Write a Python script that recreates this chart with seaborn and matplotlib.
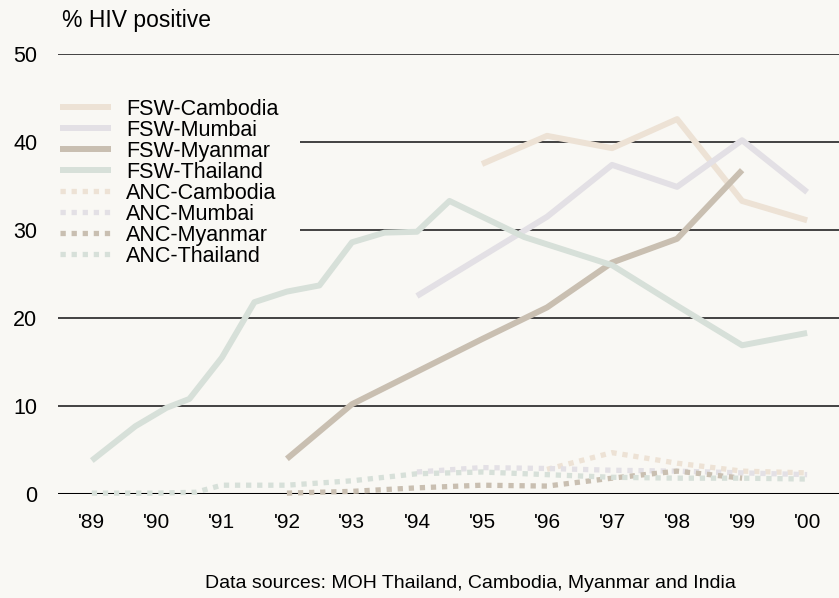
import matplotlib
matplotlib.use("Agg")
import matplotlib.pyplot as plt
import seaborn as sns
import pandas as pd

# Series names (legend order)
series_names = ['FSW-Cambodia', 'FSW-Mumbai', 'FSW-Myanmar', 'FSW-Thailand',
                'ANC-Cambodia', 'ANC-Mumbai', 'ANC-Myanmar', 'ANC-Thailand']

# Female sex workers (% HIV positive)
fsw_cambodia_years = [1995, 1996, 1997, 1998, 1999, 2000]
fsw_cambodia = [37.5, 40.7, 39.3, 42.6, 33.3, 31.1]

fsw_mumbai_years = [1994, 1995, 1996, 1997, 1998, 1999, 2000]
fsw_mumbai = [22.5, 27.0, 31.5, 37.4, 34.9, 40.2, 34.3]

fsw_myanmar_years = [1992, 1993, 1994, 1995, 1996, 1997, 1998, 1999]
fsw_myanmar = [4.0, 10.2, 13.9, 17.6, 21.2, 26.3, 29.0, 36.8]

fsw_thailand_years = [1989, 1989.67, 1990.15, 1990.5, 1991, 1991.5, 1992, 1992.5,
                      1993, 1993.5, 1994, 1994.5, 1995.65, 1997, 1998, 1999, 2000]
fsw_thailand = [3.8, 7.7, 9.8, 10.8, 15.5, 21.8, 23.0, 23.7,
                28.6, 29.7, 29.8, 33.3, 29.2, 26.0, 21.4, 16.9, 18.3]

# Antenatal clinic attendees (% HIV positive)
anc_cambodia_years = [1996, 1997, 1998, 1999, 2000]
anc_cambodia = [2.8, 4.7, 3.5, 2.6, 2.4]

anc_mumbai_years = [1994, 1995, 1996, 1997, 1998, 1999, 2000]
anc_mumbai = [2.5, 3.0, 2.9, 2.7, 2.6, 2.4, 2.2]

anc_myanmar_years = [1992, 1993, 1994, 1995, 1996, 1997, 1998, 1999]
anc_myanmar = [0.1, 0.3, 0.7, 1.0, 0.9, 1.8, 2.6, 1.8]

anc_thailand_years = [1989, 1990, 1990.6, 1991, 1992, 1993, 1994, 1995,
                      1996, 1997, 1998, 1999, 2000]
anc_thailand = [0.1, 0.1, 0.2, 1.0, 1.0, 1.5, 2.3, 2.5, 2.2, 1.9, 1.8, 1.8, 1.7]

tick_years = list(range(1989, 2001))
tick_labels = ["'89", "'90", "'91", "'92", "'93", "'94", "'95", "'96", "'97", "'98", "'99", "'00"]

# long table for seaborn
all_years = [fsw_cambodia_years, fsw_mumbai_years, fsw_myanmar_years, fsw_thailand_years,
             anc_cambodia_years, anc_mumbai_years, anc_myanmar_years, anc_thailand_years]
all_vals = [fsw_cambodia, fsw_mumbai, fsw_myanmar, fsw_thailand,
            anc_cambodia, anc_mumbai, anc_myanmar, anc_thailand]
rows = []
for name, ys, vs in zip(series_names, all_years, all_vals):
    for y, v in zip(ys, vs):
        rows.append({'series': name, 'year': y, 'value': v})
df = pd.DataFrame(rows)

bg = '#f9f8f4'
colors = {'Cambodia': '#ede2d5', 'Mumbai': '#e3e0e5', 'Myanmar': '#c9bfb1', 'Thailand': '#d7e0d9'}
palette = {n: colors[n.split('-')[1]] for n in series_names}

sns.set_style("white", {'axes.facecolor': bg, 'figure.facecolor': bg})
plt.rcParams['font.family'] = ['Liberation Sans', 'DejaVu Sans']
plt.rcParams['text.color'] = 'black'
plt.rcParams['xtick.labelcolor'] = 'black'
plt.rcParams['ytick.labelcolor'] = 'black'

fig = plt.figure(figsize=(8.39, 5.98), dpi=100)
ax = fig.add_axes([58 / 839, 1 - 494 / 598, 781 / 839, 440 / 598])

fsw = df[df['series'].str.startswith('FSW')]
anc = df[df['series'].str.startswith('ANC')]

sns.lineplot(data=fsw, x='year', y='value', hue='series', hue_order=series_names[:4],
             palette=palette, estimator=None, errorbar=None, sort=False,
             linewidth=4.3, legend=False, ax=ax, zorder=3)
sns.lineplot(data=anc, x='year', y='value', hue='series', hue_order=series_names[4:],
             palette=palette, estimator=None, errorbar=None, sort=False,
             linewidth=3.8, legend=False, ax=ax, zorder=3)

lines = ax.get_lines()
for ln in lines[4:8]:
    ln.set_dashes((1, 1.1))
for ln in lines:
    ln.set_solid_capstyle('butt')
    ln.set_clip_on(False)

# gridlines (40 and 30 start right of the legend)
ax.hlines([50, 20, 10], 1988.48, 2000.49, color='#111111', lw=1.1, zorder=1)
ax.hlines([40, 30], 1992.2, 2000.49, color='#111111', lw=1.1, zorder=1)
ax.axhline(0, color='black', lw=2.2, zorder=1.5)

ax.set_xlim(1988.48, 2000.49)
ax.set_ylim(0, 50)
for s in ax.spines.values():
    s.set_visible(False)
ax.set_xticks(tick_years)
ax.set_xticklabels(tick_labels, fontsize=15)
ax.set_yticks([0, 10, 20, 30, 40, 50])
ax.set_yticklabels(['0', '10', '20', '30', '40', '50'], fontsize=15.5)
ax.tick_params(axis='x', direction='out', length=12, width=1.3, color='black', pad=2)
ax.tick_params(axis='y', length=0, pad=15)
ax.set_xlabel('')
ax.set_ylabel('')

leg = ax.legend(lines, series_names, loc='upper left', bbox_to_anchor=(0.002, 0.898),
                frameon=False, fontsize=15.5, handlelength=2.4, handletextpad=0.7,
                labelspacing=0.0, borderpad=0, borderaxespad=0)

fig.text(62 / 839, 1 - 20 / 598, '% HIV positive', fontsize=16.5, ha='left', va='center')
fig.text(205 / 839, 1 - 583 / 598, 'Data sources: MOH Thailand, Cambodia, Myanmar and India',
         fontsize=14, ha='left', va='center')

fig.savefig('out.png', dpi=100, facecolor=bg)
